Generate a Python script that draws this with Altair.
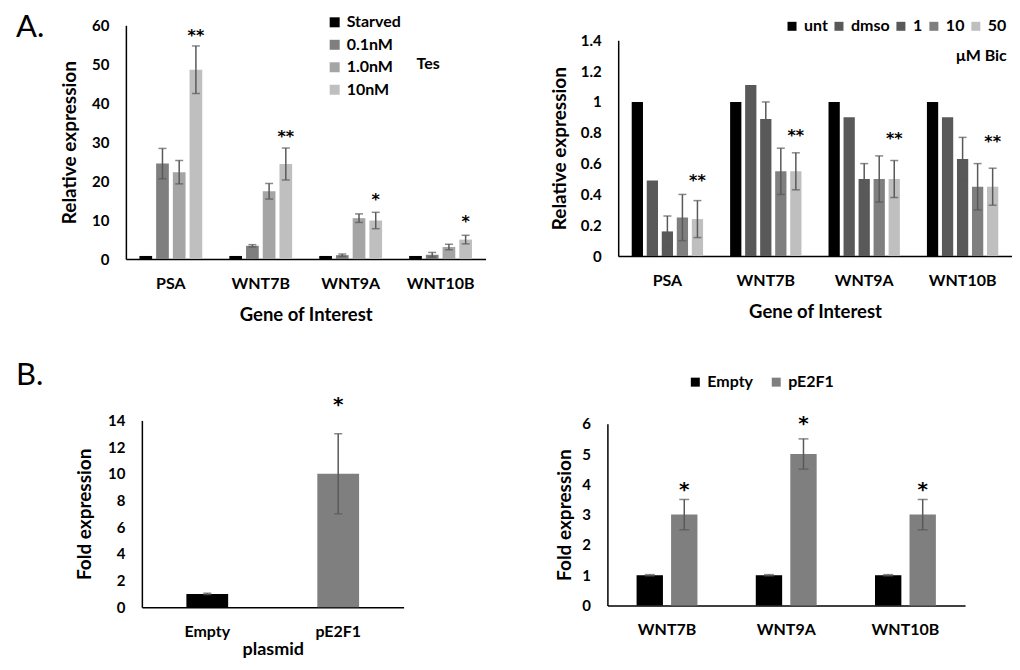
import altair as alt
import pandas as pd

# ---------------- data ----------------
genes = ["PSA", "WNT7B", "WNT9A", "WNT10B"]

tes_doses = ["Starved", "0.1nM", "1.0nM", "10nM"]
tes_starved = [0.8, 0.8, 0.8, 0.8]
tes_01nM = [24.5, 3.4, 1.0, 1.1]
tes_1nM = [22.3, 17.4, 10.5, 3.1]
tes_10nM = [48.6, 24.4, 9.9, 5.0]
tes_starved_err = [0.0, 0.0, 0.0, 0.0]
tes_01nM_err = [3.9, 0.3, 0.3, 0.6]
tes_1nM_err = [3.0, 2.0, 1.1, 0.7]
tes_10nM_err = [6.1, 4.1, 2.1, 1.1]
tes_stars = ["**", "**", "*", "*"]
tes_star_y = [58.1, 32.2, 16.0, 10.3]
tes_colors = ["#000000", "#7f7f7f", "#a5a5a5", "#bfbfbf"]
tes_ticks = [0, 10, 20, 30, 40, 50, 60]

bic_doses = ["unt", "dmso", "1", "10", "50"]
bic_unt = [1.0, 1.0, 1.0, 1.0]
bic_dmso = [0.49, 1.11, 0.90, 0.90]
bic_1 = [0.16, 0.89, 0.50, 0.63]
bic_10 = [0.25, 0.55, 0.50, 0.45]
bic_50 = [0.24, 0.55, 0.50, 0.45]
bic_unt_err = [0.0, 0.0, 0.0, 0.0]
bic_dmso_err = [0.0, 0.0, 0.0, 0.0]
bic_1_err = [0.10, 0.11, 0.10, 0.14]
bic_10_err = [0.15, 0.15, 0.15, 0.15]
bic_50_err = [0.12, 0.12, 0.12, 0.12]
bic_stars = ["**", "**", "**", "**"]
bic_star_y = [0.505, 0.80, 0.78, 0.76]
bic_colors = ["#000000", "#595959", "#595959", "#7f7f7f", "#bfbfbf"]
bic_ticks = [0, 0.2, 0.4, 0.6, 0.8, 1, 1.2, 1.4]

plasmids = ["Empty", "pE2F1"]
plasmid_colors = ["#000000", "#7f7f7f"]
e2f1_values = [1.0, 10.0]
e2f1_err = [0.05, 3.0]
e2f1_star_plasmid = ["pE2F1"]
e2f1_star_y = [15.4]
e2f1_ticks = [0, 2, 4, 6, 8, 10, 12, 14]

wnt_genes = ["WNT7B", "WNT9A", "WNT10B"]
wnt_empty = [1.0, 1.0, 1.0]
wnt_empty_err = [0.02, 0.02, 0.02]
wnt_pe2f1 = [3.0, 5.0, 3.0]
wnt_pe2f1_err = [0.5, 0.5, 0.5]
wnt_stars = ["*", "*", "*"]
wnt_star_y = [3.9, 6.09, 3.9]
wnt_ticks = [0, 1, 2, 3, 4, 5, 6]

panel_letters = ["A.", "B."]

# ---------------- tables ----------------
def long_table(cats, groups, means, errs):
    rows = []
    for g, m_list, e_list in zip(groups, means, errs):
        for c, m, e in zip(cats, m_list, e_list):
            rows.append({"cat": c, "grp": g, "mean": m, "lo": m - e, "hi": m + e, "err": e})
    return pd.DataFrame(rows)

df_tes = long_table(genes, tes_doses,
                    [tes_starved, tes_01nM, tes_1nM, tes_10nM],
                    [tes_starved_err, tes_01nM_err, tes_1nM_err, tes_10nM_err])
st_tes = pd.DataFrame({"cat": genes, "grp": [tes_doses[-1]] * 4, "y": tes_star_y, "t": tes_stars})

df_bic = long_table(genes, bic_doses,
                    [bic_unt, bic_dmso, bic_1, bic_10, bic_50],
                    [bic_unt_err, bic_dmso_err, bic_1_err, bic_10_err, bic_50_err])
st_bic = pd.DataFrame({"cat": genes, "grp": [bic_doses[-1]] * 4, "y": bic_star_y, "t": bic_stars})

df_e2 = pd.DataFrame({"cat": plasmids, "grp": plasmids, "mean": e2f1_values,
                      "lo": [v - e for v, e in zip(e2f1_values, e2f1_err)],
                      "hi": [v + e for v, e in zip(e2f1_values, e2f1_err)],
                      "err": e2f1_err})
st_e2 = pd.DataFrame({"cat": e2f1_star_plasmid, "grp": e2f1_star_plasmid, "y": e2f1_star_y,
                      "t": ["*"]})

df_wnt = long_table(wnt_genes, plasmids, [wnt_empty, wnt_pe2f1], [wnt_empty_err, wnt_pe2f1_err])
st_wnt = pd.DataFrame({"cat": wnt_genes, "grp": [plasmids[1]] * 3, "y": wnt_star_y, "t": wnt_stars})

FONT = "Lato"
ERR = "#595959"


def panel(df, st, cats, x_pad, groups, off_pad, colors, y_dom, ticks,
          x_title, y_title, legend, cap, star_size, y_title_pad,
          x_range=None, y_range=None, y_offset=None, x_title_pad=14, x_title_size=18.5):
    xs_kw = dict(domain=cats, paddingInner=x_pad[0], paddingOuter=x_pad[1])
    if x_range is not None:
        xs_kw["range"] = x_range
    xs = alt.Scale(**xs_kw)
    x_axis = alt.Axis(title=x_title, labelAngle=0, labelFontSize=16, labelPadding=16,
                      titleFontSize=x_title_size, titlePadding=x_title_pad)
    ys_kw = dict(domain=y_dom, nice=False, zero=True)
    if y_range is not None:
        ys_kw["range"] = y_range
    ys = alt.Scale(**ys_kw)
    y_kw = dict(title=y_title, values=ticks, format=".2~f", titlePadding=y_title_pad)
    if y_offset is not None:
        y_kw["offset"] = y_offset
    y_axis = alt.Axis(**y_kw)

    def enc(yfield, **kw):
        e = dict(
            x=alt.X("cat:N", sort=cats, scale=xs, axis=x_axis),
            y=alt.Y(yfield, scale=ys, axis=y_axis),
        )
        if off_pad is not None:
            e["xOffset"] = alt.XOffset("grp:N", sort=groups,
                                       scale=alt.Scale(domain=groups, paddingInner=off_pad[0],
                                                       paddingOuter=off_pad[1]))
        e.update(kw)
        return e

    base = alt.Chart(df)
    bars = base.mark_bar().encode(**enc("mean:Q", color=alt.Color(
        "grp:N", sort=groups, scale=alt.Scale(domain=groups, range=colors), legend=legend)))
    ebase = base.transform_filter("datum.err > 0")
    rule = ebase.mark_rule(color=ERR, strokeWidth=1.5).encode(**enc("lo:Q", y2="hi:Q"))
    cap_hi = ebase.mark_tick(color=ERR, thickness=1.5, size=cap, orient="horizontal").encode(
        **enc("hi:Q"))
    cap_lo = ebase.mark_tick(color=ERR, thickness=1.5, size=cap, orient="horizontal").encode(
        **enc("lo:Q"))
    stars = alt.Chart(st).mark_text(font="DejaVu Sans", fontSize=star_size, fontWeight="bold",
                                    baseline="middle", dy=3, color="black").encode(
        **enc("y:Q", text="t:N"))
    return [bars, rule, cap_hi, cap_lo, stars]


leg_common = dict(orient="none", symbolType="square", symbolStrokeWidth=0,
                  labelFont=FONT, labelFontWeight="bold", labelFontSize=16, labelColor="black",
                  labelOffset=4, titleFont=FONT, titleFontWeight="bold", titleFontSize=16,
                  titleColor="black", padding=0)

leg_tes = alt.Legend(title="Tes", legendX=201, legendY=-11, direction="vertical", rowPadding=6.5,
                     symbolSize=100, titleOrient="right", titleAnchor="middle",
                     titleBaseline="top", titlePadding=16, **leg_common)
leg_bic = alt.Legend(title="μM Bic", legendX=166, legendY=-7, direction="horizontal",
                     symbolSize=81, columnPadding=3, titleOrient="bottom", titleAnchor="end",
                     titlePadding=14, **leg_common)
leg_wnt = alt.Legend(title=None, legendX=80, legendY=-46.3, direction="horizontal",
                     symbolSize=81, columnPadding=15, **leg_common)


def letter(txt, x, y):
    return alt.Chart(pd.DataFrame({"t": [txt]})).mark_text(
        font=FONT, fontSize=31, align="left", baseline="top", color="black").encode(
        x=alt.value(x), y=alt.value(y), text="t:N")


A1 = alt.layer(*panel(df_tes, st_tes, genes, (0, 0), tes_doses, (0.24, 0.81), tes_colors,
                      [0, 60], tes_ticks, "Gene of Interest", "Relative expression", leg_tes,
                      8, 16, 12),
               letter(panel_letters[0], -110, -12.5)).properties(width=360, height=234)

A2 = alt.layer(*panel(df_bic, st_bic, genes, (0, 0), bic_doses, (0.25, 0.9), bic_colors,
                      [0, 1.4], bic_ticks, "Gene of Interest", "Relative expression", leg_bic,
                      8, 16, 11, y_range=[231, 15])).properties(width=394, height=231)

B1 = alt.layer(*panel(df_e2, st_e2, plasmids, (0.681, 0.34), plasmids, None, plasmid_colors,
                      [0, 14], e2f1_ticks, "plasmid", "Fold expression", None,
                      8, 20, 13, x_range=[16, 278], y_offset=-16, x_title_pad=1,
                      x_title_size=18),
               letter(panel_letters[1], -110, -59.4)).properties(width=278, height=187)

B2 = alt.layer(*panel(df_wnt, st_wnt, wnt_genes, (0, 0), plasmids, (0.236, 0.845),
                      plasmid_colors, [0, 6], wnt_ticks, None, "Fold expression", leg_wnt,
                      10, 20, 7, y_range=[185.3, 3.3])).properties(width=358, height=185.3)

indep = dict(color="independent", xOffset="independent", x="independent", y="independent")

rowA = alt.hconcat(A1, A2, spacing=64.8).resolve_scale(**indep)
rowB = alt.hconcat(B1, B2, spacing=152).resolve_scale(**indep)

chart = alt.vconcat(rowA, rowB, spacing=35.5).resolve_scale(**indep).properties(
    padding={"left": 8, "top": 3, "right": 0, "bottom": 0}
).configure_view(stroke=None).configure_axis(
    domainColor="black", domainWidth=1.5, ticks=False, grid=False,
    labelFont=FONT, labelFontWeight="bold", labelFontSize=15, labelColor="black",
    labelPadding=17, titleFont=FONT, titleFontWeight="bold", titleFontSize=19, titleColor="black"
)

chart.save("out.html", embed_options={"renderer": "svg", "actions": False})
